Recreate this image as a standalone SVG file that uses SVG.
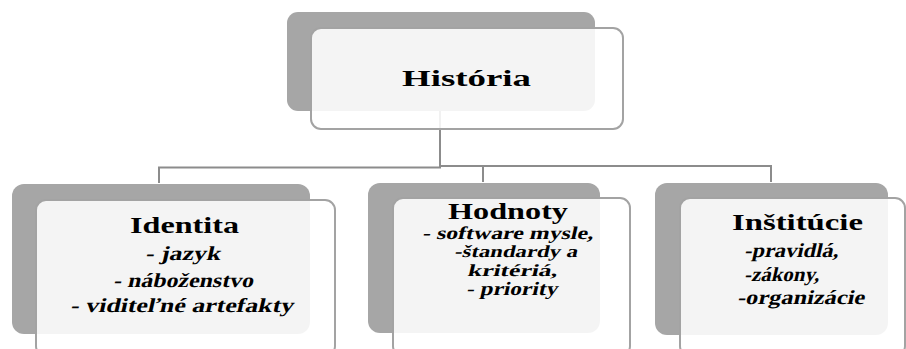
<svg xmlns="http://www.w3.org/2000/svg" width="906" height="349" viewBox="0 0 906 349">
<style>
.back{fill:#a6a6a6;}
.front{fill:#ffffff;fill-opacity:0.88;stroke:#a3a3a3;stroke-width:2;}
.title{font-family:"Liberation Serif",serif;font-weight:bold;font-size:24px;fill:#000;}
.item{font-family:"Liberation Serif",serif;font-weight:bold;font-size:20px;fill:#000;}
.conn{fill:none;stroke:#8c8c8c;stroke-width:2;}
</style>
<rect width="906" height="349" fill="#ffffff"/>
<g id="connectors">
<path class="conn" d="M440,111 V167.5 H159 V183"/>
<path class="conn" d="M440,111 V166 H771 V182"/>
<path class="conn" d="M483,166 V182"/>
</g>
<g id="historia">
<rect class="back" x="287" y="12" width="308" height="99" rx="11"/>
<rect class="front" x="311" y="28" width="312" height="101" rx="10"/>
<text class="title" x="402" y="86" textLength="129" lengthAdjust="spacingAndGlyphs">História</text>
</g>
<g id="identita">
<rect class="back" x="12" y="184" width="298" height="150" rx="12"/>
<rect class="front" x="36" y="200" width="299" height="156" rx="10"/>
<text class="title" x="130" y="233" textLength="109" lengthAdjust="spacingAndGlyphs">Identita</text>
<text class="item" transform="translate(145,260) skewX(-13)" textLength="75" lengthAdjust="spacingAndGlyphs">- jazyk</text>
<text class="item" transform="translate(113,287) skewX(-13)" textLength="140" lengthAdjust="spacingAndGlyphs">- náboženstvo</text>
<text class="item" transform="translate(70,312) skewX(-13)" textLength="223" lengthAdjust="spacingAndGlyphs">- viditeľné artefakty</text>
</g>
<g id="hodnoty">
<rect class="back" x="368" y="183" width="232" height="150" rx="12"/>
<rect class="front" x="393" y="198" width="237" height="158" rx="10"/>
<text class="title" x="448" y="219" textLength="120" lengthAdjust="spacingAndGlyphs" style="font-size:23px">Hodnoty</text>
<text class="item" style="font-size:18px" transform="translate(422,239) skewX(-13)" textLength="171" lengthAdjust="spacingAndGlyphs">- software mysle,</text>
<text class="item" style="font-size:17px" transform="translate(454,257) skewX(-13)" textLength="123" lengthAdjust="spacingAndGlyphs">-štandardy a</text>
<text class="item" style="font-size:17px" transform="translate(467,276) skewX(-13)" textLength="90" lengthAdjust="spacingAndGlyphs">kritériá,</text>
<text class="item" style="font-size:19px" transform="translate(466,295) skewX(-13)" textLength="91" lengthAdjust="spacingAndGlyphs">- priority</text>
</g>
<g id="institucie">
<rect class="back" x="655" y="183" width="233" height="152" rx="12"/>
<rect class="front" x="680" y="198" width="225" height="158" rx="10"/>
<text class="title" x="732" y="230" textLength="131" lengthAdjust="spacingAndGlyphs">Inštitúcie</text>
<text class="item" transform="translate(744,257) skewX(-13)" textLength="94" lengthAdjust="spacingAndGlyphs">-pravidlá,</text>
<text class="item" transform="translate(744,281) skewX(-13)" textLength="75" lengthAdjust="spacingAndGlyphs">-zákony,</text>
<text class="item" transform="translate(737,304) skewX(-13)" textLength="127" lengthAdjust="spacingAndGlyphs">-organizácie</text>
</g>
</svg>
